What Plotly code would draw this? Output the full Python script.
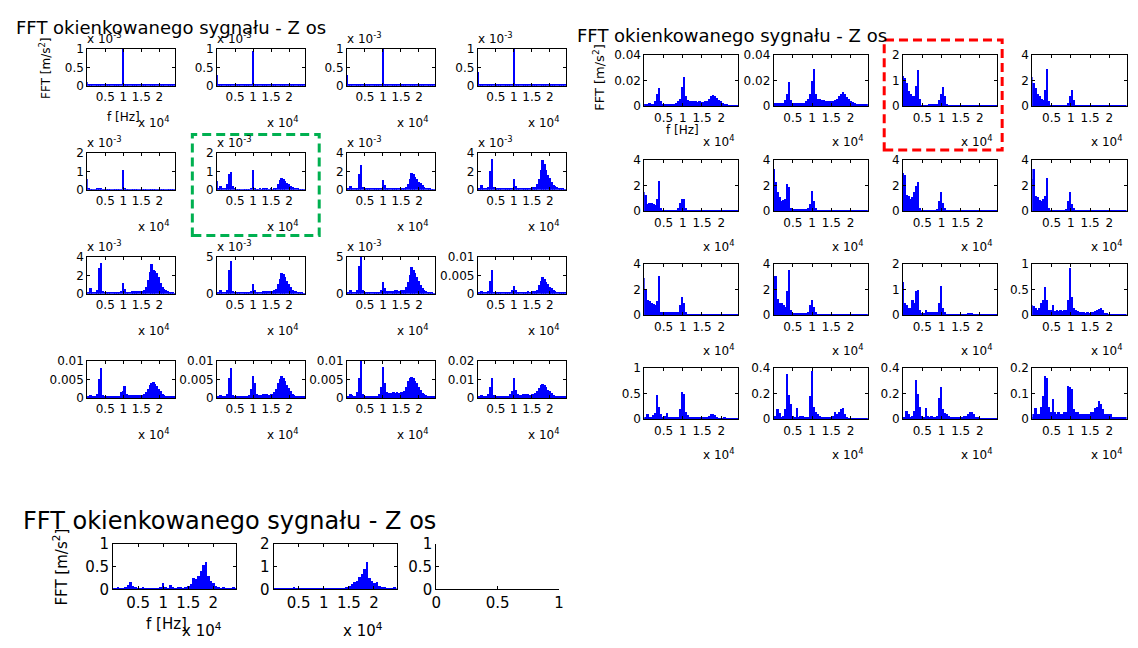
import plotly.graph_objects as go

W, H = 1138, 648
FONT = "DejaVu Sans"
BIN_HZ = 500  # spectra below in 500 Hz bins

# ---------------- top-left figure (values in displayed units) ----------------
tl_r1c1 = [0.10, 0.04, 0.03, 0.03, 0.03, 0.03, 0.03, 0.03, 0.03, 0.03,
           0.03, 0.03, 0.03, 0.03, 0.03, 0.03, 0.03, 0.03, 0.03, 0.03,
           1.00, 0.05, 0.03, 0.03, 0.03, 0.03, 0.03, 0.03, 0.03, 0.03,
           0.03, 0.03, 0.03, 0.03, 0.03, 0.03, 0.03, 0.03, 0.03, 0.03,
           0.03, 0.03, 0.03, 0.03, 0.03, 0.03, 0.03, 0.03, 0.03, 0.03,
           0.03, 0.03]
tl_r1c2 = [0.30, 0.05, 0.03, 0.03, 0.03, 0.03, 0.03, 0.03, 0.03, 0.03,
           0.03, 0.03, 0.03, 0.03, 0.03, 0.03, 0.03, 0.03, 0.03, 0.03,
           0.95, 0.05, 0.03, 0.03, 0.03, 0.03, 0.03, 0.03, 0.03, 0.03,
           0.03, 0.03, 0.03, 0.03, 0.03, 0.03, 0.03, 0.03, 0.03, 0.03,
           0.03, 0.03, 0.03, 0.03, 0.03, 0.03, 0.03, 0.03, 0.03, 0.03,
           0.03, 0.03]
tl_r1c3 = [0.30, 0.04, 0.03, 0.03, 0.03, 0.03, 0.03, 0.03, 0.03, 0.03,
           0.03, 0.03, 0.03, 0.03, 0.03, 0.03, 0.03, 0.03, 0.03, 0.03,
           1.00, 0.04, 0.03, 0.03, 0.03, 0.03, 0.03, 0.03, 0.03, 0.03,
           0.03, 0.03, 0.03, 0.03, 0.03, 0.03, 0.03, 0.03, 0.03, 0.03,
           0.03, 0.03, 0.03, 0.03, 0.03, 0.03, 0.03, 0.03, 0.03, 0.03,
           0.03, 0.03]
tl_r1c4 = [0.38, 0.05, 0.03, 0.03, 0.03, 0.03, 0.03, 0.03, 0.03, 0.03,
           0.03, 0.03, 0.03, 0.03, 0.03, 0.03, 0.03, 0.03, 0.03, 0.03,
           1.00, 0.03, 0.03, 0.03, 0.03, 0.03, 0.03, 0.03, 0.03, 0.03,
           0.03, 0.03, 0.03, 0.03, 0.03, 0.03, 0.03, 0.03, 0.03, 0.03,
           0.03, 0.03, 0.03, 0.03, 0.03, 0.03, 0.03, 0.03, 0.03, 0.03,
           0.03, 0.03]
tl_r2c1 = [0.60, 0.08, 0.05, 0.05, 0.05, 0.05, 0.06, 0.08, 0.07, 0.05,
           0.05, 0.05, 0.05, 0.05, 0.05, 0.05, 0.05, 0.05, 0.05, 0.05,
           1.10, 0.07, 0.05, 0.05, 0.05, 0.05, 0.05, 0.05, 0.05, 0.05,
           0.05, 0.05, 0.05, 0.05, 0.05, 0.05, 0.05, 0.05, 0.05, 0.05,
           0.05, 0.05, 0.05, 0.05, 0.05, 0.05, 0.05, 0.05, 0.05, 0.05,
           0.05, 0.05]
tl_r2c2 = [0.50, 0.08, 0.20, 0.08, 0.06, 0.06, 0.30, 0.85, 0.95, 0.20,
           0.06, 0.05, 0.05, 0.05, 0.05, 0.05, 0.05, 0.05, 0.05, 0.06,
           1.10, 0.08, 0.05, 0.05, 0.06, 0.05, 0.06, 0.08, 0.06, 0.05,
           0.06, 0.05, 0.06, 0.10, 0.30, 0.55, 0.62, 0.58, 0.50, 0.40,
           0.30, 0.22, 0.15, 0.10, 0.08, 0.06, 0.05, 0.05, 0.05, 0.05,
           0.05, 0.05]
tl_r2c3 = [0.20, 0.15, 0.40, 0.20, 0.12, 0.12, 0.25, 1.70, 2.70, 0.30,
           0.12, 0.12, 0.12, 0.12, 0.12, 0.12, 0.12, 0.12, 0.15, 0.20,
           1.10, 0.50, 0.15, 0.15, 0.18, 0.18, 0.20, 0.20, 0.20, 0.18,
           0.20, 0.20, 0.22, 0.30, 0.60, 1.20, 1.80, 1.70, 1.40, 1.20,
           0.90, 0.70, 0.50, 0.35, 0.25, 0.18, 0.12, 0.10, 0.10, 0.10,
           0.10, 0.10]
tl_r2c4 = [0.20, 0.25, 0.50, 0.20, 0.12, 0.12, 0.30, 2.00, 3.40, 0.30,
           0.12, 0.12, 0.12, 0.12, 0.12, 0.12, 0.12, 0.12, 0.15, 0.20,
           1.20, 0.40, 0.15, 0.15, 0.20, 0.20, 0.22, 0.22, 0.25, 0.25,
           0.25, 0.28, 0.35, 0.60, 1.20, 2.20, 3.20, 2.80, 2.20, 1.60,
           1.30, 0.90, 0.55, 0.40, 0.30, 0.20, 0.15, 0.12, 0.10, 0.10,
           0.10, 0.10]
tl_r3c1 = [0.20, 0.20, 0.60, 0.25, 0.15, 0.15, 0.40, 2.80, 3.30, 0.35,
           0.15, 0.15, 0.15, 0.15, 0.15, 0.15, 0.15, 0.15, 0.20, 0.30,
           1.20, 0.50, 0.20, 0.25, 0.25, 0.30, 0.30, 0.35, 0.35, 0.30,
           0.35, 0.35, 0.45, 0.70, 1.50, 2.40, 3.20, 2.60, 2.50, 2.30,
           1.80, 1.20, 0.70, 0.50, 0.40, 0.30, 0.20, 0.15, 0.12, 0.10,
           0.10, 0.10]
tl_r3c2 = [0.20, 0.20, 0.50, 0.25, 0.15, 0.15, 0.50, 3.20, 4.50, 0.40,
           0.15, 0.15, 0.15, 0.15, 0.15, 0.15, 0.15, 0.15, 0.25, 0.40,
           1.30, 0.60, 0.25, 0.25, 0.30, 0.30, 0.35, 0.40, 0.40, 0.35,
           0.40, 0.40, 0.50, 0.70, 1.30, 2.00, 2.80, 2.70, 2.30, 1.80,
           1.40, 0.90, 0.60, 0.45, 0.35, 0.25, 0.20, 0.15, 0.12, 0.10,
           0.10, 0.10]
tl_r3c3 = [0.20, 0.25, 0.55, 0.30, 0.20, 0.20, 0.50, 3.80, 5.00, 0.50,
           0.20, 0.20, 0.20, 0.20, 0.20, 0.20, 0.20, 0.20, 0.30, 0.60,
           1.60, 0.80, 0.35, 0.40, 0.40, 0.45, 0.45, 0.50, 0.50, 0.45,
           0.50, 0.50, 0.60, 0.90, 1.60, 2.60, 3.60, 3.30, 2.90, 2.30,
           1.80, 1.20, 0.80, 0.55, 0.40, 0.30, 0.20, 0.15, 0.12, 0.10,
           0.10, 0.10]
tl_r3c4 = [0.0003, 0.0004, 0.0008, 0.0004, 0.0003, 0.0003, 0.0008, 0.0035, 0.0065, 0.0006,
           0.0003, 0.0003, 0.0003, 0.0003, 0.0003, 0.0003, 0.0003, 0.0003, 0.0005, 0.0010,
           0.0022, 0.0010, 0.0005, 0.0005, 0.0005, 0.0006, 0.0006, 0.0006, 0.0007, 0.0006,
           0.0007, 0.0007, 0.0008, 0.0012, 0.0025, 0.0035, 0.0045, 0.0040, 0.0032, 0.0028,
           0.0020, 0.0015, 0.0010, 0.0008, 0.0006, 0.0005, 0.0004, 0.0003, 0.0003, 0.0003,
           0.0003, 0.0003]
tl_r4c1 = [0.0004, 0.0005, 0.0008, 0.0006, 0.0004, 0.0004, 0.0010, 0.0050, 0.0080, 0.0008,
           0.0004, 0.0004, 0.0004, 0.0004, 0.0004, 0.0004, 0.0004, 0.0004, 0.0006, 0.0015,
           0.0020, 0.0033, 0.0010, 0.0007, 0.0008, 0.0008, 0.0009, 0.0009, 0.0009, 0.0008,
           0.0009, 0.0009, 0.0010, 0.0015, 0.0025, 0.0035, 0.0040, 0.0042, 0.0038, 0.0032,
           0.0025, 0.0018, 0.0012, 0.0008, 0.0006, 0.0005, 0.0004, 0.0004, 0.0003, 0.0003,
           0.0003, 0.0003]
tl_r4c2 = [0.0004, 0.0005, 0.0009, 0.0006, 0.0004, 0.0004, 0.0012, 0.0055, 0.0080, 0.0008,
           0.0004, 0.0004, 0.0004, 0.0004, 0.0004, 0.0004, 0.0004, 0.0004, 0.0008, 0.0025,
           0.0060, 0.0040, 0.0012, 0.0008, 0.0008, 0.0009, 0.0010, 0.0010, 0.0010, 0.0009,
           0.0010, 0.0012, 0.0015, 0.0025, 0.0040, 0.0052, 0.0060, 0.0055, 0.0045, 0.0035,
           0.0027, 0.0020, 0.0012, 0.0008, 0.0006, 0.0005, 0.0004, 0.0004, 0.0003, 0.0003,
           0.0003, 0.0003]
tl_r4c3 = [0.0005, 0.0006, 0.0010, 0.0007, 0.0005, 0.0005, 0.0015, 0.0055, 0.0100, 0.0010,
           0.0005, 0.0005, 0.0005, 0.0005, 0.0005, 0.0005, 0.0005, 0.0005, 0.0010, 0.0030,
           0.0085, 0.0040, 0.0015, 0.0013, 0.0013, 0.0014, 0.0015, 0.0014, 0.0015, 0.0013,
           0.0015, 0.0016, 0.0020, 0.0030, 0.0045, 0.0053, 0.0058, 0.0053, 0.0047, 0.0040,
           0.0030, 0.0022, 0.0013, 0.0010, 0.0008, 0.0006, 0.0005, 0.0005, 0.0004, 0.0004,
           0.0004, 0.0004]
tl_r4c4 = [0.0008, 0.0010, 0.0015, 0.0010, 0.0008, 0.0008, 0.0020, 0.0060, 0.0110, 0.0015,
           0.0008, 0.0008, 0.0008, 0.0008, 0.0008, 0.0008, 0.0008, 0.0008, 0.0020, 0.0040,
           0.0110, 0.0045, 0.0020, 0.0018, 0.0018, 0.0020, 0.0020, 0.0020, 0.0020, 0.0018,
           0.0020, 0.0022, 0.0028, 0.0040, 0.0055, 0.0068, 0.0075, 0.0070, 0.0058, 0.0045,
           0.0035, 0.0025, 0.0016, 0.0012, 0.0010, 0.0008, 0.0008, 0.0007, 0.0006, 0.0006,
           0.0006, 0.0006]

# ---------------- top-right figure ----------------
tr_r1c1 = [0.0020, 0.0020, 0.0020, 0.0025, 0.0020, 0.0020, 0.0040, 0.0100, 0.0140, 0.0040,
           0.0020, 0.0020, 0.0020, 0.0020, 0.0020, 0.0020, 0.0020, 0.0025, 0.0040, 0.0060,
           0.0150, 0.0230, 0.0080, 0.0050, 0.0045, 0.0040, 0.0040, 0.0040, 0.0035, 0.0040,
           0.0035, 0.0035, 0.0040, 0.0045, 0.0060, 0.0080, 0.0090, 0.0085, 0.0065, 0.0050,
           0.0040, 0.0030, 0.0022, 0.0018, 0.0015, 0.0015, 0.0015, 0.0015, 0.0015, 0.0015,
           0.0015, 0.0015]
tr_r1c2 = [0.0025, 0.0025, 0.0025, 0.0030, 0.0025, 0.0025, 0.0050, 0.0100, 0.0190, 0.0050,
           0.0025, 0.0025, 0.0025, 0.0025, 0.0025, 0.0025, 0.0030, 0.0040, 0.0060, 0.0100,
           0.0200, 0.0290, 0.0100, 0.0060, 0.0055, 0.0050, 0.0050, 0.0045, 0.0045, 0.0045,
           0.0045, 0.0045, 0.0050, 0.0060, 0.0080, 0.0100, 0.0110, 0.0095, 0.0075, 0.0060,
           0.0045, 0.0035, 0.0025, 0.0020, 0.0018, 0.0018, 0.0018, 0.0018, 0.0018, 0.0018,
           0.0018, 0.0018]
tr_r1c3 = [1.20, 1.10, 0.90, 0.60, 0.50, 0.40, 0.40, 0.80, 1.40, 0.30,
           0.05, 0.05, 0.05, 0.05, 0.08, 0.08, 0.08, 0.08, 0.10, 0.25,
           0.50, 0.75, 0.40, 0.10, 0.05, 0.04, 0.04, 0.04, 0.04, 0.04,
           0.04, 0.04, 0.04, 0.04, 0.04, 0.04, 0.04, 0.04, 0.04, 0.04,
           0.04, 0.04, 0.04, 0.04, 0.04, 0.04, 0.04, 0.04, 0.04, 0.04,
           0.04, 0.04]
tr_r1c4 = [2.30, 1.80, 1.40, 1.00, 0.80, 0.60, 0.50, 1.30, 2.90, 0.40,
           0.10, 0.08, 0.08, 0.08, 0.10, 0.10, 0.10, 0.10, 0.12, 0.30,
           0.80, 1.30, 0.50, 0.15, 0.08, 0.06, 0.06, 0.06, 0.06, 0.06,
           0.06, 0.06, 0.06, 0.06, 0.06, 0.06, 0.06, 0.06, 0.06, 0.06,
           0.06, 0.06, 0.06, 0.06, 0.06, 0.06, 0.06, 0.06, 0.06, 0.06,
           0.06, 0.06]
tr_r2c1 = [1.50, 1.30, 0.60, 0.65, 0.70, 0.60, 0.50, 1.00, 2.40, 0.30,
           0.10, 0.15, 0.15, 0.15, 0.15, 0.15, 0.15, 0.15, 0.30, 0.70,
           1.00, 1.00, 0.30, 0.10, 0.06, 0.05, 0.05, 0.05, 0.05, 0.05,
           0.05, 0.05, 0.05, 0.05, 0.05, 0.06, 0.05, 0.05, 0.05, 0.05,
           0.05, 0.05, 0.05, 0.05, 0.05, 0.05, 0.05, 0.05, 0.05, 0.05,
           0.05, 0.05]
tr_r2c2 = [3.30, 2.30, 1.50, 1.10, 0.80, 0.90, 1.00, 2.10, 1.90, 0.30,
           0.20, 0.20, 0.20, 0.20, 0.20, 0.20, 0.20, 0.20, 0.25, 0.60,
           1.60, 0.80, 0.30, 0.10, 0.06, 0.05, 0.05, 0.05, 0.05, 0.05,
           0.05, 0.05, 0.05, 0.05, 0.06, 0.12, 0.06, 0.05, 0.05, 0.05,
           0.05, 0.05, 0.05, 0.05, 0.05, 0.05, 0.05, 0.05, 0.05, 0.05,
           0.05, 0.05]
tr_r2c3 = [3.00, 2.80, 1.30, 1.20, 1.00, 1.10, 1.50, 2.00, 2.30, 0.30,
           0.15, 0.15, 0.15, 0.15, 0.15, 0.15, 0.15, 0.15, 0.20, 0.80,
           1.50, 0.70, 0.30, 0.10, 0.06, 0.05, 0.05, 0.05, 0.05, 0.05,
           0.05, 0.05, 0.05, 0.05, 0.06, 0.10, 0.06, 0.05, 0.05, 0.05,
           0.05, 0.05, 0.05, 0.05, 0.05, 0.05, 0.05, 0.05, 0.05, 0.05,
           0.05, 0.05]
tr_r2c4 = [2.50, 3.30, 1.20, 1.10, 0.90, 0.80, 1.00, 1.20, 2.60, 0.30,
           0.15, 0.15, 0.15, 0.15, 0.15, 0.15, 0.15, 0.15, 0.20, 0.80,
           1.50, 0.60, 0.30, 0.10, 0.06, 0.05, 0.05, 0.05, 0.05, 0.05,
           0.05, 0.05, 0.05, 0.05, 0.06, 0.08, 0.06, 0.05, 0.05, 0.05,
           0.05, 0.05, 0.05, 0.05, 0.05, 0.05, 0.05, 0.05, 0.05, 0.05,
           0.05, 0.05]
tr_r3c1 = [2.90, 2.00, 1.20, 1.10, 1.00, 0.90, 0.80, 1.10, 3.10, 0.30,
           0.25, 0.25, 0.25, 0.25, 0.25, 0.25, 0.25, 0.25, 0.30, 0.80,
           1.40, 1.00, 0.30, 0.12, 0.08, 0.06, 0.06, 0.06, 0.06, 0.06,
           0.06, 0.06, 0.06, 0.06, 0.08, 0.12, 0.08, 0.06, 0.06, 0.06,
           0.06, 0.06, 0.06, 0.06, 0.06, 0.06, 0.06, 0.06, 0.06, 0.06,
           0.06, 0.06]
tr_r3c2 = [1.30, 3.10, 1.30, 1.00, 1.00, 0.80, 0.70, 1.90, 3.50, 0.40,
           0.20, 0.20, 0.20, 0.20, 0.20, 0.20, 0.20, 0.20, 0.25, 0.80,
           1.20, 0.70, 0.30, 0.10, 0.06, 0.06, 0.06, 0.06, 0.06, 0.06,
           0.06, 0.06, 0.06, 0.06, 0.06, 0.08, 0.06, 0.06, 0.06, 0.06,
           0.06, 0.06, 0.06, 0.06, 0.06, 0.06, 0.06, 0.06, 0.06, 0.06,
           0.06, 0.06]
tr_r3c3 = [1.30, 0.50, 0.40, 0.30, 0.30, 0.60, 0.50, 0.95, 1.00, 0.20,
           0.10, 0.10, 0.20, 0.15, 0.15, 0.15, 0.15, 0.15, 0.15, 0.50,
           1.15, 0.30, 0.15, 0.05, 0.05, 0.05, 0.05, 0.05, 0.05, 0.05,
           0.05, 0.05, 0.05, 0.05, 0.08, 0.10, 0.08, 0.03, 0.03, 0.03,
           0.03, 0.03, 0.03, 0.03, 0.03, 0.03, 0.03, 0.03, 0.03, 0.03,
           0.03, 0.03]
tr_r3c4 = [0.20, 0.18, 0.15, 0.10, 0.15, 0.25, 0.30, 0.55, 0.30, 0.10,
           0.10, 0.20, 0.08, 0.10, 0.08, 0.10, 0.08, 0.10, 0.10, 0.30,
           0.92, 0.35, 0.15, 0.10, 0.08, 0.07, 0.06, 0.06, 0.05, 0.06,
           0.05, 0.06, 0.06, 0.08, 0.10, 0.12, 0.15, 0.10, 0.05, 0.04,
           0.03, 0.03, 0.03, 0.03, 0.03, 0.03, 0.03, 0.03, 0.03, 0.03,
           0.03, 0.03]
tr_r4c1 = [0.03, 0.05, 0.10, 0.05, 0.05, 0.08, 0.12, 0.48, 0.25, 0.10,
           0.05, 0.06, 0.12, 0.05, 0.05, 0.05, 0.05, 0.05, 0.05, 0.20,
           0.53, 0.50, 0.15, 0.08, 0.05, 0.05, 0.05, 0.05, 0.05, 0.05,
           0.05, 0.05, 0.05, 0.05, 0.06, 0.10, 0.10, 0.08, 0.04, 0.03,
           0.03, 0.03, 0.04, 0.02, 0.02, 0.02, 0.02, 0.02, 0.02, 0.02,
           0.02, 0.02]
tr_r4c2 = [0.02, 0.03, 0.08, 0.05, 0.02, 0.03, 0.08, 0.35, 0.19, 0.12,
           0.03, 0.02, 0.09, 0.02, 0.03, 0.03, 0.02, 0.02, 0.02, 0.18,
           0.38, 0.10, 0.06, 0.04, 0.03, 0.02, 0.02, 0.02, 0.02, 0.02,
           0.02, 0.03, 0.06, 0.04, 0.06, 0.08, 0.09, 0.04, 0.02, 0.01,
           0.01, 0.01, 0.01, 0.01, 0.01, 0.01, 0.01, 0.01, 0.01, 0.01,
           0.01, 0.01]
tr_r4c3 = [0.02, 0.02, 0.07, 0.04, 0.02, 0.03, 0.07, 0.31, 0.20, 0.10,
           0.03, 0.02, 0.09, 0.03, 0.02, 0.03, 0.02, 0.02, 0.03, 0.17,
           0.25, 0.08, 0.05, 0.04, 0.03, 0.02, 0.02, 0.02, 0.02, 0.02,
           0.02, 0.02, 0.03, 0.03, 0.04, 0.06, 0.06, 0.04, 0.02, 0.02,
           0.01, 0.01, 0.01, 0.01, 0.01, 0.01, 0.01, 0.01, 0.01, 0.01,
           0.01, 0.01]
tr_r4c4 = [0.010, 0.020, 0.045, 0.020, 0.020, 0.050, 0.090, 0.170, 0.160, 0.050,
           0.030, 0.080, 0.030, 0.020, 0.030, 0.020, 0.020, 0.030, 0.030, 0.130,
           0.125, 0.120, 0.040, 0.030, 0.030, 0.020, 0.020, 0.020, 0.020, 0.020,
           0.020, 0.030, 0.030, 0.045, 0.050, 0.070, 0.060, 0.040, 0.020, 0.020,
           0.020, 0.020, 0.010, 0.010, 0.010, 0.010, 0.010, 0.010, 0.010, 0.010,
           0.010, 0.010]

# ---------------- bottom figure ----------------
bt_c1 = [0.03, 0.03, 0.05, 0.03, 0.04, 0.06, 0.10, 0.17, 0.08, 0.05,
         0.03, 0.04, 0.07, 0.03, 0.03, 0.03, 0.03, 0.03, 0.03, 0.05,
         0.15, 0.06, 0.04, 0.10, 0.05, 0.04, 0.05, 0.06, 0.04, 0.06,
         0.08, 0.12, 0.25, 0.24, 0.30, 0.42, 0.55, 0.60, 0.30, 0.20,
         0.15, 0.08, 0.06, 0.04, 0.05, 0.04, 0.03, 0.04, 0.07, 0.03,
         0.03, 0.03]
bt_c2 = [0.05, 0.05, 0.05, 0.05, 0.05, 0.05, 0.06, 0.08, 0.10, 0.06,
         0.05, 0.05, 0.05, 0.05, 0.05, 0.05, 0.05, 0.05, 0.06, 0.07,
         0.08, 0.06, 0.05, 0.06, 0.07, 0.06, 0.08, 0.06, 0.07, 0.10,
         0.15, 0.25, 0.35, 0.40, 0.55, 0.70, 0.90, 1.20, 0.50, 0.40,
         0.30, 0.35, 0.15, 0.12, 0.10, 0.08, 0.06, 0.07, 0.10, 0.05,
         0.05, 0.05]

tl_spectra = [[tl_r1c1, tl_r1c2, tl_r1c3, tl_r1c4],
              [tl_r2c1, tl_r2c2, tl_r2c3, tl_r2c4],
              [tl_r3c1, tl_r3c2, tl_r3c3, tl_r3c4],
              [tl_r4c1, tl_r4c2, tl_r4c3, tl_r4c4]]
tl_yticks = [[[0, 0.5, 1]] * 4,
             [[0, 1, 2], [0, 1, 2], [0, 2, 4], [0, 2, 4]],
             [[0, 2, 4], [0, 5], [0, 5], [0, 0.005, 0.01]],
             [[0, 0.005, 0.01]] * 3 + [[0, 0.01, 0.02]]]
tl_scaled = [[True] * 4, [True] * 4, [True, True, True, False], [False] * 4]

tr_spectra = [[tr_r1c1, tr_r1c2, tr_r1c3, tr_r1c4],
              [tr_r2c1, tr_r2c2, tr_r2c3, tr_r2c4],
              [tr_r3c1, tr_r3c2, tr_r3c3, tr_r3c4],
              [tr_r4c1, tr_r4c2, tr_r4c3, tr_r4c4]]
tr_yticks = [[[0, 0.02, 0.04], [0, 0.02, 0.04], [0, 1, 2], [0, 2, 4]],
             [[0, 2, 4]] * 4,
             [[0, 2, 4], [0, 2, 4], [0, 1, 2], [0, 0.5, 1]],
             [[0, 0.5, 1], [0, 0.2, 0.4], [0, 0.2, 0.4], [0, 0.1, 0.2]]]

bt_spectra = [bt_c1, bt_c2]
bt_yticks = [[0, 0.5, 1], [0, 1, 2], [0, 0.5, 1]]

freq_ticks = [5000, 10000, 15000, 20000]
freq_ticktext = ["0.5", "1", "1.5", "2"]
unit_ticks = [0, 0.5, 1]

TITLE = "FFT okienkowanego sygnału - Z os"
YLABEL = "FFT [m/s<sup>2</sup>]"
XLABEL = "f [Hz]"
X_EXP = "x 10<sup>4</sup>"
Y_EXP = "x 10<sup>-3</sup>"
F_MAX = 24500

fig = go.Figure()
layout = {}
annotations = []
count = 0


def label(text, x, y, size, xanchor="center", angle=0):
    annotations.append(dict(text=text, x=x / W, y=1 - y / H, xref="paper", yref="paper",
                            showarrow=False, xanchor=xanchor, yanchor="middle",
                            textangle=angle,
                            font=dict(family=FONT, size=size, color="black")))


def panel(vals, left, top, w, h, yticks, size, xrange=(0, F_MAX), xticks=None,
          xtext=None, box=True):
    global count
    count += 1
    sfx = "" if count == 1 else str(count)
    if xticks is None:
        xticks, xtext = freq_ticks, freq_ticktext
    common = dict(showline=True, linecolor="black", linewidth=1,
                  mirror="ticks" if box else False,
                  ticks="inside", ticklen=3, tickcolor="black", tickwidth=1,
                  showgrid=False, zeroline=False, fixedrange=True,
                  tickfont=dict(family=FONT, size=size, color="black"))
    layout["xaxis" + sfx] = dict(common, domain=[left / W, (left + w) / W],
                                 anchor="y" + sfx, range=list(xrange),
                                 tickvals=xticks, ticktext=xtext)
    layout["yaxis" + sfx] = dict(common, domain=[1 - (top + h) / H, 1 - top / H],
                                 anchor="x" + sfx, range=[0, yticks[-1]],
                                 tickvals=yticks, ticktext=[f"{v:g}" for v in yticks])
    if vals is None:
        fig.add_trace(go.Scatter(x=[], y=[], xaxis="x" + sfx, yaxis="y" + sfx,
                                 showlegend=False))
    else:
        freqs = [i * BIN_HZ for i in range(len(vals))]
        fig.add_trace(go.Bar(x=freqs, y=vals, xaxis="x" + sfx, yaxis="y" + sfx,
                             marker=dict(color="#0000FF", line=dict(width=0)),
                             showlegend=False, hoverinfo="skip"))


# top-left group
TL_LEFT, TL_W = [83, 214, 345, 477], 89
TL_TOP, TL_H = [41, 148, 255, 362], 38
for r in range(4):
    for c in range(4):
        x0, y0 = TL_LEFT[c], TL_TOP[r]
        panel(tl_spectra[r][c], x0, y0, TL_W, TL_H, tl_yticks[r][c], 12)
        label(X_EXP, x0 + TL_W - 4, y0 + TL_H + 37, 12, xanchor="right")
        if tl_scaled[r][c]:
            label(Y_EXP, x0 - 2, y0 - 11, 12, xanchor="left")
label(TITLE, 167, 19, 18)
label(YLABEL, 41, 61, 12, angle=-90)
label(XLABEL, 120, 111, 12)

# top-right group
TR_LEFT, TR_W = [645, 775.5, 906, 1036.5], 95
TR_TOP, TR_H = [47, 155, 262, 369], 53
for r in range(4):
    for c in range(4):
        x0, y0 = TR_LEFT[c], TR_TOP[r]
        panel(tr_spectra[r][c], x0, y0, TR_W, TR_H, tr_yticks[r][c], 12)
        label(X_EXP, x0 + TR_W - 2, y0 + TR_H + 36, 12, xanchor="right")
label(TITLE, 733, 27, 18)
label(YLABEL, 599, 70, 13, angle=-90)
label(XLABEL, 684, 124, 12)

# bottom group
BT_LEFT, BT_W = [109, 271, 435], 124
BT_TOP, BT_H = 550, 47
for c in range(2):
    panel(bt_spectra[c], BT_LEFT[c], BT_TOP, BT_W, BT_H, bt_yticks[c], 15)
    label(X_EXP, BT_LEFT[c] + BT_W - 12, 639, 15, xanchor="right")
panel(None, BT_LEFT[2], BT_TOP, BT_W, BT_H, bt_yticks[2], 15,
      xrange=(0, 1), xticks=unit_ticks, xtext=["0", "0.5", "1"], box=False)
label(TITLE, 226, 527, 24)
label(YLABEL, 56, 574, 15, angle=-90)
label(XLABEL, 163, 633, 15)

shapes = [
    dict(type="rect", xref="paper", yref="paper", x0=189 / W, x1=317 / W,
         y0=1 - 233 / H, y1=1 - 129 / H,
         line=dict(color="#00B050", width=3, dash="9px,5px")),
    dict(type="rect", xref="paper", yref="paper", x0=887 / W, x1=1006 / W,
         y0=1 - 145 / H, y1=1 - 32 / H,
         line=dict(color="#FF0000", width=3, dash="9px,5px")),
]

fig.update_layout(width=W, height=H, autosize=False,
                  margin=dict(l=0, r=0, t=0, b=0),
                  paper_bgcolor="white", plot_bgcolor="white",
                  bargap=0, showlegend=False,
                  annotations=annotations, shapes=shapes, **layout)

# the page body has a default 8px margin; drop it so the figure sits at (0, 0)
fig.write_html("out.html", config={"displayModeBar": False},
               post_script="document.body.style.margin='0';"
                           "document.body.style.overflow='hidden';")
